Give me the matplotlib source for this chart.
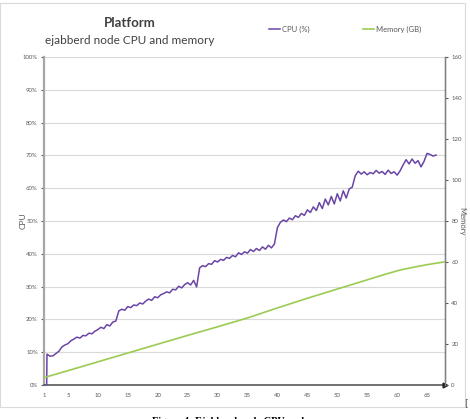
import numpy as np
import matplotlib
matplotlib.use("Agg")
import matplotlib.pyplot as plt
from matplotlib.patches import Rectangle

plt.rcParams['font.family'] = ['Lato', 'DejaVu Sans']

# CPU (%) samples, every half step starting at x = 1.5
cpu_values = [
    9.4, 8.8, 8.9, 9.6, 10.3, 11.6, 12.2, 12.6, 13.5, 14.0,
    14.6, 14.3, 15.1, 15.0, 15.8, 15.6, 16.4, 16.9, 17.6, 17.2,
    18.4, 18.0, 19.2, 19.5,
    22.6, 23.1, 22.8, 23.9, 23.6, 24.4, 24.2, 25.0, 24.7, 25.6,
    26.2, 25.8, 26.9, 26.6, 27.5, 27.9, 28.4, 28.1, 29.2, 29.0,
    30.1, 29.6, 30.6, 31.2, 30.5, 31.9, 29.9,
    35.7, 36.4, 36.1, 37.0, 36.8, 37.9, 37.5, 38.3, 38.0, 38.9,
    38.6, 39.5, 39.1, 40.3, 39.8, 40.6, 40.2, 41.3, 40.7, 41.6,
    41.0, 42.1, 41.4, 42.6, 41.8, 43.0,
    48.0, 49.6, 50.3, 49.8, 50.9, 50.4, 51.6, 51.1, 52.3, 51.7,
    53.4, 52.6, 54.3, 53.2, 55.6, 53.8, 56.7, 54.9, 57.5, 55.2,
    58.3, 56.1, 59.2, 57.0, 59.8, 60.3,
    63.8, 65.2, 64.3, 65.0, 64.1, 64.8, 64.4, 65.4, 64.6, 65.1,
    64.2, 65.5, 64.5, 65.0, 64.0, 65.3, 67.1, 68.7, 67.4, 68.9,
    67.6, 68.4, 66.5, 68.2, 70.6, 70.3, 69.8, 70.1,
]
cpu_x = np.concatenate([[1.0, 1.45], 1.5 + 0.5 * np.arange(len(cpu_values))])
cpu_y = np.concatenate([[0.0, 0.0], cpu_values])

# Memory (GB)
mem_x = [1, 5, 10, 15, 20, 25, 30, 35, 40, 45, 50, 55, 58, 60.5, 62.5, 65, 68]
mem_y = [3.6, 7.0, 11.3, 15.6, 19.9, 24.2, 28.4, 32.7, 37.6, 42.3, 46.8, 51.3, 54.0, 56.1, 57.3, 58.7, 60.1]

x_ticks = [1, 5, 10, 15, 20, 25, 30, 35, 40, 45, 50, 55, 60, 65]
cpu_ticks = list(range(0, 101, 10))
mem_ticks = list(range(0, 161, 20))

purple = '#6a45a6'
green = '#9bcb52'
label_col = '#595959'

fig = plt.figure(figsize=(4.70, 4.19), dpi=100)
fig.patches.append(Rectangle((0.0, (419 - 407) / 419), 465 / 470, 404 / 419,
                             transform=fig.transFigure, fill=False,
                             edgecolor='#d9d9d9', linewidth=0.8))

ax = fig.add_axes([44 / 470, 34 / 419, 401 / 470, 328 / 419])
ax2 = ax.twinx()

ax.plot(cpu_x, cpu_y, color=purple, linewidth=1.1, label='CPU (%)', zorder=3)
ax2.plot(mem_x, mem_y, color=green, linewidth=1.2, label='Memory (GB)', zorder=3)

ax.set_xlim(1, 68)
ax.set_ylim(0, 100)
ax2.set_ylim(0, 160)
ax.set_xticks(x_ticks)
ax.set_xticklabels([str(t) for t in x_ticks])
ax.set_yticks(cpu_ticks)
ax.set_yticklabels([f'{t}%' for t in cpu_ticks])
ax2.set_yticks(mem_ticks)

ax.grid(axis='y', color='#d9d9d9', linewidth=0.8)
ax.set_axisbelow(True)
for a in (ax, ax2):
    a.spines['top'].set_visible(False)
ax.spines['left'].set_color('#a6a6a6')
ax.spines['left'].set_linewidth(1.6)
ax.spines['bottom'].set_color('#595959')
ax.spines['bottom'].set_linewidth(1.2)
ax2.spines['right'].set_color('#7f7f7f')
ax2.spines['right'].set_linewidth(1.0)
ax2.spines['left'].set_visible(False)
ax2.spines['bottom'].set_visible(False)
ax.plot(1, 0, '>', color='#262626', markersize=3.5, transform=ax.transAxes,
        clip_on=False, zorder=5)

ax.tick_params(axis='y', labelsize=4.3, colors=label_col, length=2.5, width=0.8, pad=2)
ax.tick_params(axis='x', labelsize=4.3, colors=label_col, length=0, pad=6)
ax2.tick_params(axis='y', labelsize=4.3, colors=label_col, length=2.5, width=0.8, pad=2)

fig.text(23 / 470, 1 - 221 / 419, 'CPU', rotation=90, fontsize=6,
         color=label_col, ha='center', va='center')
fig.text(462 / 470, 1 - 221 / 419, 'Memory', rotation=-90, fontsize=5.5,
         color=label_col, ha='center', va='center')

fig.text(130 / 470, 1 - 23 / 419, 'Platform', fontsize=9.5, fontweight='bold',
         color='#404040', ha='center', va='center')
fig.text(130 / 470, 1 - 40 / 419, 'ejabberd node CPU and memory', fontsize=8.5,
         color='#404040', ha='center', va='center')

fig.legend(loc='center', bbox_to_anchor=(345 / 470, 1 - 29 / 419), ncol=2,
           frameon=False, fontsize=5.5, handlelength=1.4, handletextpad=0.3,
           columnspacing=7, labelcolor=label_col)

fig.text(466 / 470, 1 - 404 / 419, '[', fontsize=7, color='#404040',
         ha='center', va='center')
fig.text(152 / 470, (419 - 424) / 419, 'Figure 4: Ejabberd node CPU and memory',
         fontsize=7.5, fontweight='bold', family=['Liberation Serif', 'DejaVu Serif'],
         color='#000000', ha='left', va='baseline')

fig.savefig('out.png', dpi=100)
